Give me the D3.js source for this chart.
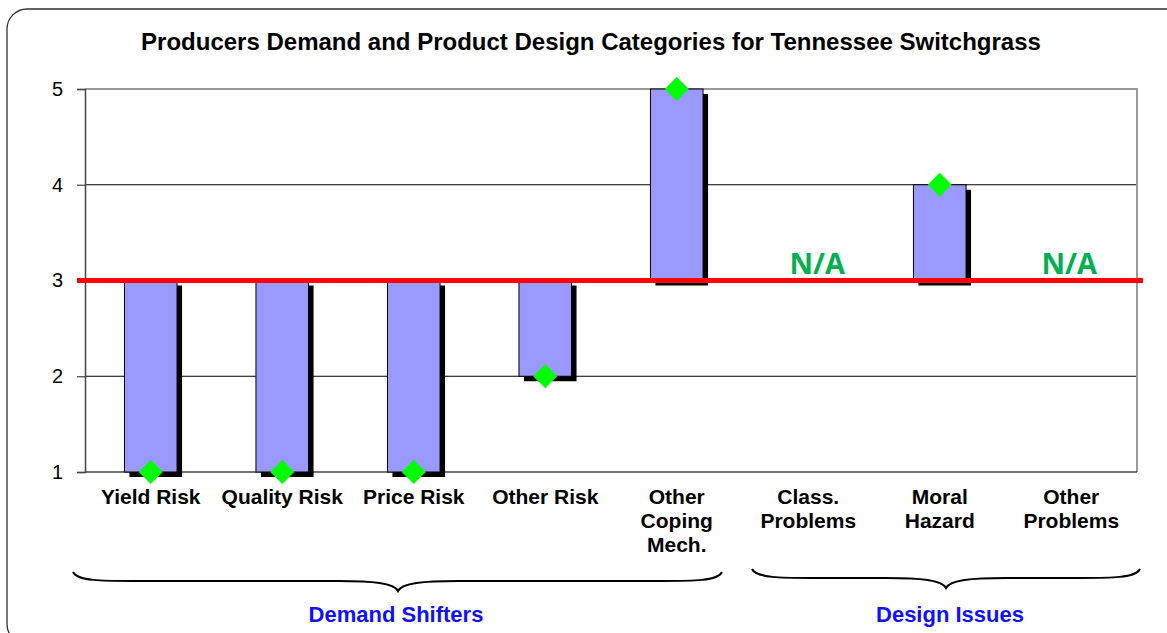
<!DOCTYPE html>
<meta charset="utf-8">
<script src="https://d3js.org/d3.v7.min.js"></script>
<style>
  body { margin: 0; background: #fff; }
  text { font-family: Arial, "Liberation Sans", sans-serif; }
</style>
<body>
<div id="chart"></div>
<script>

// data
var categories = ["Yield Risk", "Quality Risk", "Price Risk", "Other Risk",
                  "Other Coping Mech.", "Class. Problems", "Moral Hazard", "Other Problems"];
var labelLines = [["Yield Risk"], ["Quality Risk"], ["Price Risk"], ["Other Risk"],
                  ["Other", "Coping", "Mech."], ["Class.", "Problems"], ["Moral", "Hazard"], ["Other", "Problems"]];
var scores = [1, 1, 1, 2, 5, null, 4, null];
var baseline = 3;
var yTicks = [1, 2, 3, 4, 5];
var groups = ["Demand Shifters", "Design Issues"];

var W = 1167, H = 633;
var margin = {top: 89, right: 30, bottom: 161, left: 85};
var width = W - margin.left - margin.right,
    height = H - margin.top - margin.bottom;

var svg = d3.select("#chart").append("svg")
    .attr("width", W)
    .attr("height", H);

// outer rounded frame
svg.append("rect")
  .attr("x", 7).attr("y", 9)
  .attr("width", 1185).attr("height", 635)
  .attr("rx", 20)
  .attr("fill", "none")
  .attr("stroke", "#333")
  .attr("stroke-width", 1.3);

// title
svg.append("text")
  .attr("x", 591).attr("y", 50)
  .attr("text-anchor", "middle")
  .style("font-weight", "bold")
  .style("font-size", "24px")
  .text("Producers Demand and Product Design Categories for Tennessee Switchgrass");

var g = svg.append("g")
  .attr("transform", "translate(" + margin.left + "," + margin.top + ")");

var x = d3.scaleBand()
  .domain(categories)
  .range([0, width])
  .paddingInner(0.6)
  .paddingOuter(0.3);

var y = d3.scaleLinear()
  .domain([1, 5])
  .range([height, 0]);

// grid lines
g.append("g")
  .selectAll("line")
  .data(yTicks.filter(function(d) { return d > 1 && d < 5; }))
  .enter().append("line")
    .attr("x1", 0).attr("x2", width)
    .attr("y1", function(d) { return y(d); })
    .attr("y2", function(d) { return y(d); })
    .attr("stroke", "#000")
    .attr("stroke-width", 1);

// plot border (top/right gray)
g.append("path")
  .attr("d", "M0," + y(5) + "H" + width + "V" + height)
  .attr("fill", "none")
  .attr("stroke", "#999")
  .attr("stroke-width", 2);

// y axis
var yAxis = g.append("g")
  .call(d3.axisLeft(y).tickValues(yTicks).tickFormat(d3.format("d")).tickSize(8).tickPadding(14));
yAxis.select(".domain").attr("stroke", "#444").attr("stroke-width", 1.5);
yAxis.selectAll(".tick line").attr("stroke", "#444").attr("stroke-width", 1.2);
yAxis.selectAll("text")
  .style("font-size", "20px")
  .style("font-family", "Arial, 'Liberation Sans', sans-serif")
  .attr("fill", "#000");

// x axis line
g.append("line")
  .attr("x1", 0).attr("x2", width)
  .attr("y1", height).attr("y2", height)
  .attr("stroke", "#444")
  .attr("stroke-width", 1.5);

// bars
var barData = categories.map(function(c, i) { return {cat: c, v: scores[i]}; })
  .filter(function(d) { return d.v !== null; });

var barW = x.bandwidth();
var sh = 5;

g.append("g")
  .selectAll("rect")
  .data(barData)
  .enter().append("rect")
    .attr("x", function(d) { return x(d.cat) + sh; })
    .attr("y", function(d) { return Math.min(y(d.v), y(baseline)) + sh; })
    .attr("width", barW)
    .attr("height", function(d) { return Math.abs(y(d.v) - y(baseline)); })
    .attr("fill", "#000");

g.append("g")
  .selectAll("rect")
  .data(barData)
  .enter().append("rect")
    .attr("x", function(d) { return x(d.cat); })
    .attr("y", function(d) { return Math.min(y(d.v), y(baseline)); })
    .attr("width", barW)
    .attr("height", function(d) { return Math.abs(y(d.v) - y(baseline)); })
    .attr("fill", "#9999ff")
    .attr("stroke", "#000")
    .attr("stroke-width", 1);

// red baseline
g.append("line")
  .attr("x1", -8).attr("x2", width + 6)
  .attr("y1", y(baseline)).attr("y2", y(baseline))
  .attr("stroke", "#ff0000")
  .attr("stroke-width", 5);

// N/A labels
g.append("g")
  .selectAll("text")
  .data(categories.filter(function(c, i) { return scores[i] === null; }))
  .enter().append("text")
    .attr("x", function(d, i) { return x(d) + barW / 2 + (i === 0 ? 9 : -2); })
    .attr("y", y(baseline) - 7)
    .attr("text-anchor", "middle")
    .style("font-family", "'Open Sans', sans-serif")
    .style("font-weight", "bold")
    .style("font-size", "29px")
    .attr("fill", "#00b050")
    .text("N/A");

// diamonds
g.append("g")
  .selectAll("path")
  .data(barData)
  .enter().append("path")
    .attr("transform", function(d) { return "translate(" + (x(d.cat) + barW / 2) + "," + y(d.v) + ")"; })
    .attr("d", "M0,-12L12,0L0,12L-12,0Z")
    .attr("fill", "#00ff00");

// category labels
var lab = g.append("g")
  .selectAll("text")
  .data(categories)
  .enter().append("text")
    .attr("x", function(d) { return x(d) + barW / 2; })
    .attr("y", height + 32)
    .attr("text-anchor", "middle")
    .style("font-weight", "bold")
    .style("font-size", "21px");
lab.selectAll("tspan")
  .data(function(d, i) { return labelLines[i]; })
  .enter().append("tspan")
    .attr("x", function() { return d3.select(this.parentNode).attr("x"); })
    .attr("dy", function(d, i) { return i === 0 ? 0 : 24; })
    .text(function(d) { return d; });

// braces
function brace(x1, x2, xt, y0) {
  var yl = y0 + 9, yt = y0 + 19;
  return "M" + x1 + "," + y0 +
    "C" + (x1 + 4) + "," + (yl) + " " + (x1 + 30) + "," + yl + " " + (x1 + 60) + "," + yl +
    "L" + (xt - 60) + "," + yl +
    "C" + (xt - 25) + "," + yl + " " + (xt - 4) + "," + (yl + 2) + " " + xt + "," + yt +
    "C" + (xt + 4) + "," + (yl + 2) + " " + (xt + 25) + "," + yl + " " + (xt + 60) + "," + yl +
    "L" + (x2 - 60) + "," + yl +
    "C" + (x2 - 30) + "," + yl + " " + (x2 - 4) + "," + yl + " " + x2 + "," + y0;
}
var bracePos = [
  {x1: 73, x2: 722, xt: 398, y0: 572, lx: 396},
  {x1: 752, x2: 1140, xt: 946, y0: 569, lx: 950}
];
svg.append("g")
  .selectAll("path")
  .data(bracePos)
  .enter().append("path")
    .attr("d", function(b) { return brace(b.x1, b.x2, b.xt, b.y0); })
    .attr("fill", "none")
    .attr("stroke", "#000")
    .attr("stroke-width", 2);

svg.append("g")
  .selectAll("text")
  .data(groups)
  .enter().append("text")
    .attr("x", function(d, i) { return bracePos[i].lx; })
    .attr("y", 622)
    .attr("text-anchor", "middle")
    .style("font-weight", "bold")
    .style("font-size", "22px")
    .attr("fill", "#1010ff")
    .text(function(d) { return d; });

</script>
</body>
